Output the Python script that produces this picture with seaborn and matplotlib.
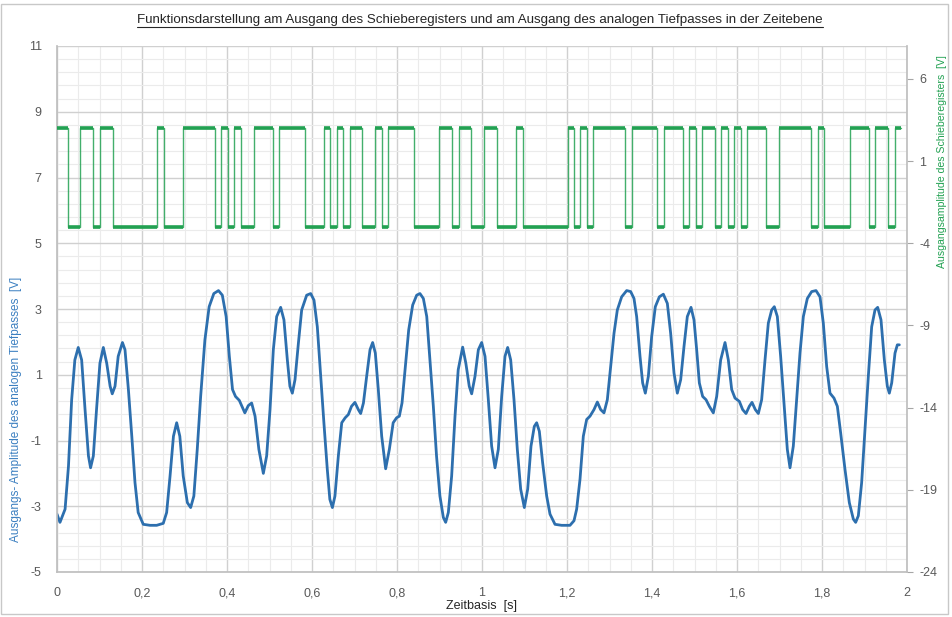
import numpy as np
import pandas as pd
import matplotlib
matplotlib.use("Agg")
import matplotlib.pyplot as plt
import seaborn as sns
from matplotlib.ticker import FixedLocator, FuncFormatter
from matplotlib.lines import Line2D
from matplotlib.patches import Rectangle

# ---------------- data ----------------
title_text = "Funktionsdarstellung am Ausgang des Schieberegisters und am Ausgang des analogen Tiefpasses in der Zeitebene"
xlabel_text = "Zeitbasis  [s]"
ylabel_left = "Ausgangs- Amplitude des analogen Tiefpasses  [V]"
ylabel_right = "Ausgangsamplitude des Schieberegisters  [V]"

# shift register output: alternating run lengths (in clock periods), starting high
sr_runs = [2, 2, 2, 1, 2, 7, 1, 3, 5, 1, 1, 1, 1, 2, 3, 1, 4, 3, 1, 1, 1, 1, 2, 2, 1, 1,
           4, 4, 2, 1, 2, 2, 2, 3, 1, 7, 1, 1, 1, 1, 5, 1, 4, 1, 3, 1, 1, 1, 2, 1, 1, 1,
           1, 1, 3, 2, 5, 1, 1, 4, 3, 1, 2, 1, 1]
sr_high = 3.0
sr_low = -3.0
sr_period = 0.015082      # s per bit
sr_phase = -0.34          # bit phase of first clock edge

# low-pass output (t [s], U [V])
lp_seg1 = [(0.000, -3.24), (0.007, -3.49), (0.019, -3.09), (0.027, -1.78), (0.0345, 0.24),
           (0.042, 1.45), (0.050, 1.83), (0.058, 1.45), (0.066, -0.06), (0.074, -1.47),
           (0.079, -1.83), (0.0855, -1.47), (0.093, -0.06), (0.101, 1.35), (0.109, 1.83),
           (0.117, 1.35), (0.125, 0.65), (0.130, 0.42), (0.1365, 0.65), (0.144, 1.56),
           (0.154, 1.98), (0.160, 1.76), (0.168, 0.55), (0.176, -0.87), (0.1835, -2.28),
           (0.191, -3.19), (0.203, -3.55), (0.219, -3.58), (0.2345, -3.58), (0.250, -3.52),
           (0.258, -3.19), (0.266, -2.08), (0.274, -0.87), (0.2816, -0.46), (0.289, -0.87),
           (0.297, -2.08), (0.3067, -2.89), (0.3145, -3.04), (0.322, -2.69), (0.330, -1.27),
           (0.338, 0.34), (0.348, 2.06), (0.358, 3.07), (0.369, 3.47), (0.380, 3.56),
           (0.389, 3.42), (0.398, 2.77), (0.4055, 1.56), (0.413, 0.55), (0.420, 0.34),
           (0.429, 0.22), (0.442, -0.16), (0.450, 0.06), (0.458, 0.14), (0.466, -0.26),
           (0.475, -1.27)]
lp_seg2 = [(0.4855, -2.00), (0.4933, -1.47), (0.5012, -0.06), (0.509, 1.76), (0.5169, 2.77),
           (0.5263, 3.05), (0.534, 2.67), (0.542, 1.45), (0.548, 0.65), (0.5537, 0.44),
           (0.560, 0.85), (0.568, 1.96), (0.5757, 2.97), (0.5875, 3.42), (0.5969, 3.47),
           (0.6047, 3.27), (0.6125, 2.46), (0.6204, 0.95), (0.628, -0.46), (0.636, -1.88),
           (0.642, -2.79), (0.648, -3.04), (0.654, -2.69), (0.662, -1.47), (0.670, -0.46),
           (0.678, -0.31), (0.6855, -0.21), (0.693, 0.04), (0.701, 0.16), (0.709, -0.06),
           (0.7145, -0.18), (0.721, 0.14), (0.7286, 0.95), (0.7365, 1.76), (0.7427, 1.98),
           (0.749, 1.66), (0.756, 0.55), (0.764, -0.87), (0.7733, -1.86), (0.782, -1.27),
           (0.791, -0.46), (0.799, -0.31), (0.8055, -0.26), (0.8118, 0.14), (0.8196, 1.25),
           (0.8275, 2.36), (0.8369, 3.12), (0.8463, 3.42), (0.854, 3.47), (0.862, 3.32),
           (0.870, 2.77), (0.8776, 1.45), (0.8855, 0.04), (0.893, -1.47), (0.901, -2.69),
           (0.909, -3.34), (0.9145, -3.49), (0.9208, -3.19), (0.9286, -2.08), (0.9365, -0.26),
           (0.944, 1.15), (0.9545, 1.84), (0.962, 1.35), (0.970, 0.65)]
lp_seg3 = [(0.9757, 0.42), (0.9835, 0.95), (0.9914, 1.76), (0.9992, 1.98), (1.0071, 1.56),
           (1.0149, 0.24), (1.0227, -1.17), (1.0306, -1.83), (1.0384, -1.27), (1.0463, 0.34),
           (1.0541, 1.56), (1.0604, 1.83), (1.0675, 1.45), (1.0753, 0.24), (1.0831, -1.27),
           (1.091, -2.48), (1.0996, -3.04), (1.1075, -2.48), (1.1153, -1.17), (1.1231, -0.57),
           (1.1286, -0.46), (1.1349, -0.72), (1.1427, -1.68), (1.1522, -2.69), (1.160, -3.24),
           (1.1718, -3.55), (1.1875, -3.58), (1.207, -3.58), (1.2165, -3.44), (1.2227, -3.09),
           (1.2306, -2.18), (1.2384, -0.87), (1.2463, -0.36), (1.2541, -0.26), (1.2635, -0.06),
           (1.2714, 0.17), (1.2792, -0.06), (1.287, -0.16), (1.2949, 0.24), (1.3027, 1.25),
           (1.3106, 2.26), (1.3184, 2.97), (1.3286, 3.37), (1.3404, 3.56), (1.3498, 3.53),
           (1.3576, 3.32), (1.3639, 2.77), (1.3718, 1.56), (1.378, 0.75), (1.3843, 0.44),
           (1.3914, 0.95), (1.3992, 2.16), (1.4078, 3.07), (1.4173, 3.37), (1.4267, 3.45),
           (1.4361, 3.17), (1.4439, 2.26), (1.4518, 1.05), (1.4596, 0.44), (1.4675, 0.85),
           (1.4753, 1.86), (1.4831, 2.77)]
lp_seg4 = [(1.4918, 3.05), (1.4988, 2.67), (1.5051, 1.76), (1.5114, 0.75), (1.5192, 0.34),
           (1.5271, 0.24), (1.5349, 0.04), (1.5443, -0.16), (1.5522, 0.34), (1.5616, 1.45),
           (1.5718, 1.98), (1.5796, 1.45), (1.5875, 0.55), (1.5953, 0.29), (1.6055, 0.19),
           (1.6133, -0.06), (1.6212, -0.18), (1.629, 0.04), (1.6353, 0.16), (1.6431, -0.06),
           (1.6502, -0.18), (1.658, 0.24), (1.6659, 1.45), (1.6737, 2.57), (1.6816, 2.97),
           (1.6878, 3.07), (1.6949, 2.77), (1.7027, 1.56), (1.7106, 0.14), (1.7184, -1.27),
           (1.7247, -1.83), (1.7325, -1.17), (1.7404, 0.24), (1.7482, 1.66), (1.7561, 2.77),
           (1.7655, 3.32), (1.7757, 3.53), (1.7859, 3.56), (1.7953, 3.37), (1.8031, 2.57),
           (1.811, 1.25), (1.8188, 0.44), (1.8282, 0.29), (1.8361, 0.04), (1.8439, -0.77),
           (1.8541, -1.88), (1.8643, -2.89), (1.8737, -3.39), (1.8792, -3.49), (1.8855, -3.29),
           (1.8933, -2.28), (1.9012, -0.67), (1.909, 0.95), (1.9169, 2.46), (1.9247, 2.97),
           (1.931, 3.05), (1.9388, 2.67), (1.9467, 1.45), (1.9537, 0.65), (1.9584, 0.44),
           (1.964, 0.75), (1.9718, 1.66), (1.9773, 1.91), (1.982, 1.91)]

x_ticks = [0, 0.2, 0.4, 0.6, 0.8, 1.0, 1.2, 1.4, 1.6, 1.8, 2.0]
y_left_ticks = [-5, -3, -1, 1, 3, 5, 7, 9, 11]
y_right_ticks = [-24, -19, -14, -9, -4, 1, 6]

# ---------------- style ----------------
BLUE = "#2d6fae"
BLUE_LABEL = "#3b7fc0"
GREEN = "#22a152"
TICK_COL = "#595959"
MAJ_GRID = "#d0d0d0"
MIN_GRID = "#ebebeb"

sns.set_theme(style="white")
plt.rcParams["font.family"] = ["Liberation Sans", "DejaVu Sans"]
plt.rcParams["axes.unicode_minus"] = False

fig = plt.figure(figsize=(9.52, 6.17), dpi=100)
fig.patch.set_facecolor("white")
ax = fig.add_axes([57 / 952, 1 - 572 / 617, 850 / 952, 526 / 617])
ax2 = ax.twinx()

# low-pass curve
lp = pd.DataFrame(lp_seg1 + lp_seg2 + lp_seg3 + lp_seg4, columns=["t", "u"])
sns.lineplot(data=lp, x="t", y="u", ax=ax, color=BLUE, lw=2.0, estimator=None, sort=False,
             solid_joinstyle="round", solid_capstyle="round")

# shift register square wave
cum = np.concatenate([[0], np.cumsum(sr_runs)])
edges = (cum + sr_phase) * sr_period
edges[0] = 0.0
levels = [sr_high if i % 2 == 0 else sr_low for i in range(len(sr_runs))]
sr = pd.DataFrame({"t": edges, "u": levels + [levels[-1]]})
sns.lineplot(data=sr, x="t", y="u", ax=ax2, color=GREEN, lw=1.0, alpha=0.85,
             drawstyle="steps-post", estimator=None, sort=False)
ax2.hlines(levels, edges[:-1], edges[1:], colors=GREEN, lw=2.6)

# axes limits / ticks
ax.set_xlim(0, 2)
ax.set_ylim(-5, 11)
ax2.set_ylim(-24, 8)
ax.xaxis.set_major_locator(FixedLocator(x_ticks))
ax.xaxis.set_minor_locator(FixedLocator(np.arange(0, 2.001, 0.05)))
ax.yaxis.set_major_locator(FixedLocator(y_left_ticks))
ax.yaxis.set_minor_locator(FixedLocator(np.arange(-5, 11.001, 0.4)))
ax2.yaxis.set_major_locator(FixedLocator(y_right_ticks))
ax.xaxis.set_major_formatter(FuncFormatter(lambda v, p: ("%g" % round(v, 1)).replace(".", ",")))

ax.grid(True, which="major", color=MAJ_GRID, lw=1.0)
ax.grid(True, which="minor", color=MIN_GRID, lw=0.8)
ax.set_axisbelow(True)
ax2.grid(False)

ax.tick_params(axis="x", which="both", length=0, pad=11, labelsize=9, labelcolor=TICK_COL)
ax.tick_params(axis="y", which="both", length=0, pad=11, labelsize=9, labelcolor=TICK_COL)
ax2.tick_params(axis="y", which="major", length=4, width=0.8, color="#a6a6a6", direction="out",
                pad=5, labelsize=9, labelcolor=TICK_COL)

for a in (ax, ax2):
    for s in a.spines.values():
        s.set_visible(False)
ax.spines["left"].set_visible(True)
ax.spines["bottom"].set_visible(True)
ax.spines["left"].set_color("#bfbfbf")
ax.spines["bottom"].set_color("#bfbfbf")
ax2.spines["right"].set_visible(True)
ax2.spines["right"].set_color("#bfbfbf")

ax.set_xlabel("")
ax.set_ylabel("")
ax2.set_ylabel("")

fig.text(482 / 952, 1 - 606 / 617, xlabel_text, ha="center", va="center", fontsize=9, color="#262626")
fig.text(16 / 952, 1 - 409 / 617, ylabel_left, ha="center", va="center", rotation=90,
         fontsize=8.5, color=BLUE_LABEL)
fig.text(942 / 952, 1 - 162 / 617, ylabel_right, ha="center", va="center", rotation=90,
         fontsize=7.6, color=GREEN)
title = fig.text(480 / 952, 1 - 20 / 617, title_text, ha="center", va="center", fontsize=9.65,
                 color="#262626")

# underline title
fig.canvas.draw()
bb = title.get_window_extent().transformed(fig.transFigure.inverted())
fig.add_artist(Line2D([bb.x0, bb.x1], [bb.y0 - 1 / 617, bb.y0 - 1 / 617],
                      transform=fig.transFigure, color="#262626", lw=0.8))

# outer frame
fig.add_artist(Rectangle((1 / 952, 3 / 617), 947 / 952, 610 / 617, transform=fig.transFigure,
                         fill=False, edgecolor="#c8c8c8", lw=1.0))

fig.savefig("out.png", dpi=100, facecolor="white")
